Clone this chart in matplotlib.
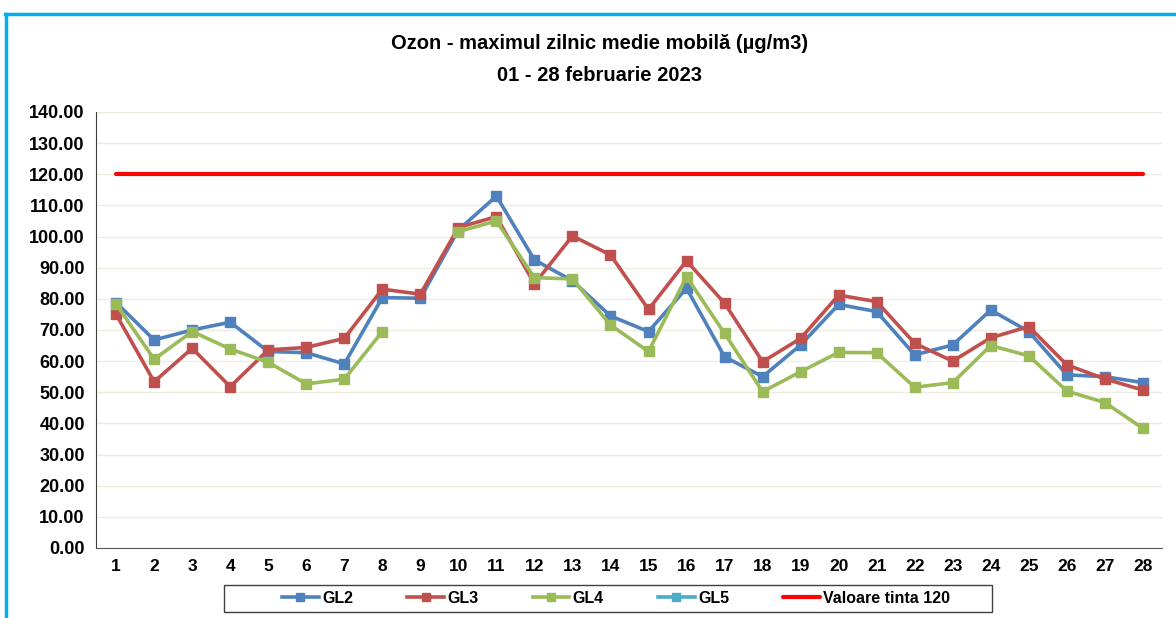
import numpy as np
import matplotlib.pyplot as plt
from matplotlib.lines import Line2D
from matplotlib.patches import Rectangle

plt.rcParams['font.family'] = ['Liberation Sans', 'DejaVu Sans']

days = list(range(1, 29))
gl2 = [78.8, 66.8, 70.0, 72.5, 63.1, 62.7, 59.1, 80.4, 80.2, 102.1, 113.0, 92.5, 85.8, 74.5,
       69.5, 83.4, 61.4, 55.0, 65.2, 78.2, 75.9, 62.0, 65.2, 76.4, 69.5, 55.6, 55.0, 53.1]
gl3 = [75.0, 53.4, 64.1, 51.8, 63.6, 64.4, 67.3, 83.1, 81.5, 102.9, 106.4, 84.8, 100.2, 94.1,
       76.6, 92.2, 78.6, 59.8, 67.3, 81.2, 79.1, 65.7, 60.0, 67.5, 71.1, 58.8, 54.3, 50.7]
gl4 = [78.3, 60.6, 69.5, 63.9, 59.6, 52.7, 54.2, 69.5, np.nan, 101.6, 105.0, 86.8, 86.4, 71.6,
       63.1, 87.1, 68.9, 50.2, 56.6, 62.8, 62.7, 51.6, 53.1, 65.0, 61.7, 50.4, 46.7, 38.4]
gl5 = [np.nan] * 28
tinta = [120] * 28

series = [("GL2", gl2, "#4F81BD"), ("GL3", gl3, "#C0504D"),
          ("GL4", gl4, "#9BBB59"), ("GL5", gl5, "#4BACC6")]

fig = plt.figure(figsize=(11.76, 6.18), dpi=100)
ax = fig.add_axes([0.0816, 0.1133, 0.9064, 0.7055])

for name, vals, col in series:
    ax.plot(days, vals, color=col, lw=2.6, marker="s", markersize=7, label=name)
ax.plot(days, tinta, color="#FF0000", lw=3, solid_capstyle="round", label="Valoare tinta 120")

ax.set_xlim(0.47, 28.5)
ax.set_ylim(0, 140)
ax.set_yticks(np.arange(0, 141, 10))
ax.set_yticklabels([f"{v:.2f}" for v in np.arange(0, 141, 10)], fontsize=13, fontweight="bold")
ax.set_xticks(days)
ax.set_xticklabels([str(d) for d in days], fontsize=12.5, fontweight="bold")
ax.tick_params(axis="y", length=0, pad=8)
ax.tick_params(axis="x", length=0, pad=8)
ax.grid(axis="y", color="#EEECE1", lw=1)
ax.set_axisbelow(True)
for s in ["top", "right"]:
    ax.spines[s].set_visible(False)
ax.spines["left"].set_color("#404040")
ax.spines["bottom"].set_color("#595959")

fig.text(0.51, 0.93, "Ozon - maximul zilnic medie mobilă (µg/m3)", ha="center", va="center",
         fontsize=14.5, fontweight="bold")
fig.text(0.51, 0.878, "01 - 28 februarie 2023", ha="center", va="center",
         fontsize=14.5, fontweight="bold")

# legend without its own frame, box drawn separately (Excel-style wide box)
leg = fig.legend(loc="center", bbox_to_anchor=(0.524, 0.0316), ncol=5,
                 prop={"weight": "bold", "size": 11.5}, frameon=False,
                 handlelength=2.3, handletextpad=0.2, columnspacing=3.4)
for h in leg.legend_handles:
    h.set_markersize(5.5)
fig.add_artist(Rectangle((224 / 1176, 1 - 612 / 618), 768 / 1176, 27 / 618,
                         transform=fig.transFigure, fill=False, edgecolor="#404040", lw=1))

# outer cyan border
fig.add_artist(Line2D([0.004, 1.0], [0.978, 0.978], color="#00B0F0", lw=2.5))
fig.add_artist(Line2D([0.005, 0.005], [0.0, 0.978], color="#00B0F0", lw=2.5))

fig.savefig("out.png", dpi=100)
